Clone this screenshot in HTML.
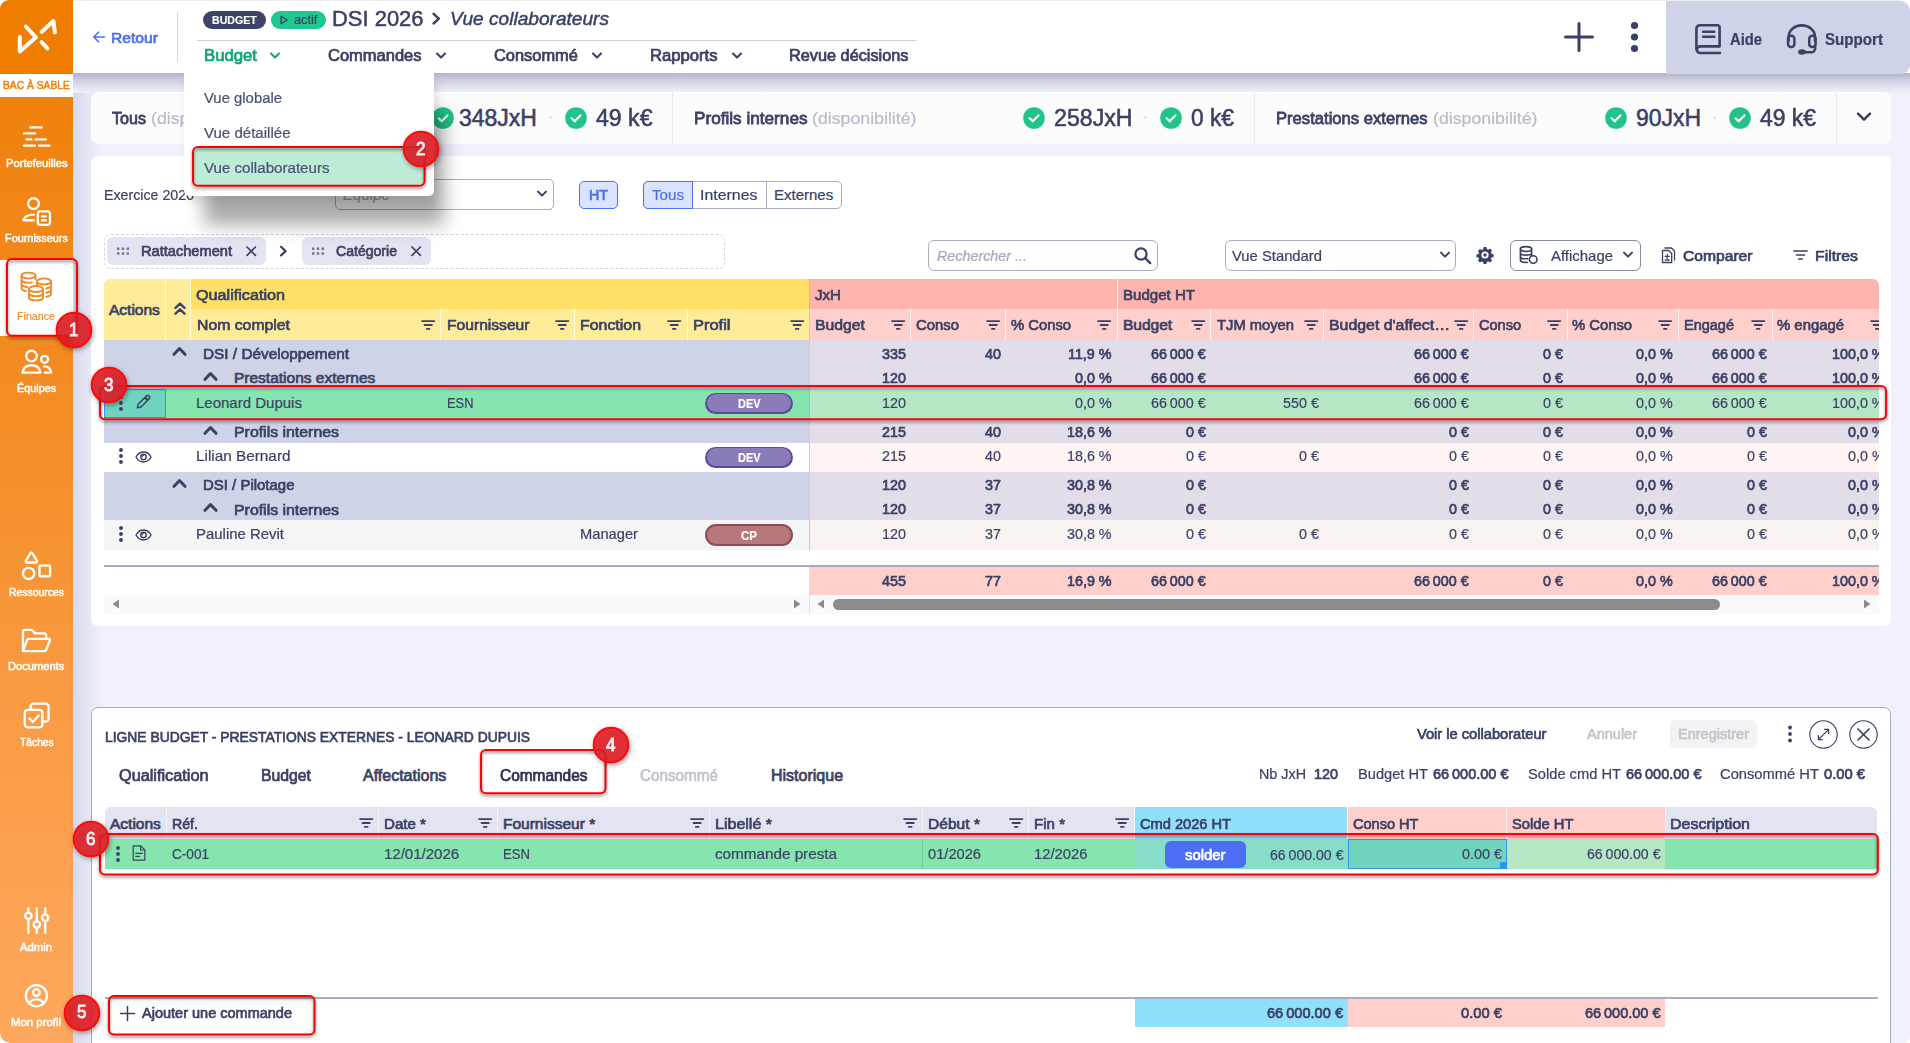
<!DOCTYPE html>
<html lang="fr"><head><meta charset="utf-8"><title>Budget DSI 2026 - Vue collaborateurs</title>
<style>
html,body{margin:0;padding:0;background:#fff;}
body{width:1910px;height:1043px;overflow:hidden;position:relative;font-family:"Liberation Sans",sans-serif;}
#app{position:absolute;left:0;top:0;width:1910px;height:1043px;overflow:hidden;background:#f0f1fb;border-radius:9px 10px 8px 10px;}
#app div,#app svg{position:absolute;box-sizing:border-box;}
.t{white-space:nowrap;transform-origin:0 50%;}
</style></head>
<body>
<div id="app">
<div style="left:73px;top:0px;width:30px;height:1043px;background:linear-gradient(to right,#d7d9ec 0,#e3e5f3 45%,#f0f1fb 100%);"></div>
<div style="left:73px;top:73px;width:1837px;height:19.5px;background:linear-gradient(to bottom,#b1b3c9 0,#bebfd4 15%,#cdcee0 35%,#dadbe8 55%,#e6e7f2 78%,#eeeff9 100%);"></div>
<div style="left:91px;top:92px;width:1799.5px;height:52px;background:#fcfcfd;border-radius:7px;"></div>
<div style="left:672px;top:92px;width:1px;height:52px;background:#e6e7f0;"></div>
<div style="left:1254px;top:92px;width:1px;height:52px;background:#e6e7f0;"></div>
<div style="left:1836px;top:92px;width:1px;height:52px;background:#e6e7f0;"></div>
<div class="t" style="left:112.00px;top:107.98px;font-size:16.5px;line-height:20px;color:#3b4165;-webkit-text-stroke:0.76px #3b4165;transform:scaleX(0.9755);">Tous</div>
<div class="t" style="left:150.70px;top:107.98px;font-size:16.5px;line-height:20px;color:#b9bbcb;-webkit-text-stroke:0.23px #b9bbcb;transform:scaleX(1.0729);">(disponibilité)</div>
<svg style="left:432px;top:106.6px;" width="22" height="22" viewBox="0 0 22 22" fill="none"><circle cx="11" cy="11" r="10.800" fill="#20c488"/><path d="M6.600 11.300l3.100 3 5.700-5.900" stroke="#fff" stroke-width="2.200" stroke-linecap="round" stroke-linejoin="round"/></svg>
<div class="t" style="left:459.00px;top:103.73px;font-size:23px;line-height:28px;color:#3b4165;-webkit-text-stroke:0.55px #3b4165;">348JxH</div>
<div style="left:548.5px;top:116px;width:3px;height:3px;background:#dfe1ee;border-radius:2px;"></div>
<svg style="left:565px;top:106.6px;" width="22" height="22" viewBox="0 0 22 22" fill="none"><circle cx="11" cy="11" r="10.800" fill="#20c488"/><path d="M6.600 11.300l3.100 3 5.700-5.900" stroke="#fff" stroke-width="2.200" stroke-linecap="round" stroke-linejoin="round"/></svg>
<div class="t" style="left:595.50px;top:103.73px;font-size:23px;line-height:28px;color:#3b4165;-webkit-text-stroke:0.55px #3b4165;transform:scaleX(1.0042);">49 k€</div>
<div class="t" style="left:693.50px;top:107.98px;font-size:16.5px;line-height:20px;color:#3b4165;-webkit-text-stroke:0.76px #3b4165;transform:scaleX(1.0401);">Profils internes</div>
<div class="t" style="left:811.50px;top:107.98px;font-size:16.5px;line-height:20px;color:#b9bbcb;-webkit-text-stroke:0.23px #b9bbcb;transform:scaleX(1.0750);">(disponibilité)</div>
<svg style="left:1023px;top:106.6px;" width="22" height="22" viewBox="0 0 22 22" fill="none"><circle cx="11" cy="11" r="10.800" fill="#20c488"/><path d="M6.600 11.300l3.100 3 5.700-5.900" stroke="#fff" stroke-width="2.200" stroke-linecap="round" stroke-linejoin="round"/></svg>
<div class="t" style="left:1053.50px;top:103.73px;font-size:23px;line-height:28px;color:#3b4165;-webkit-text-stroke:0.55px #3b4165;transform:scaleX(1.0066);">258JxH</div>
<div style="left:1143.5px;top:116px;width:3px;height:3px;background:#dfe1ee;border-radius:2px;"></div>
<svg style="left:1160px;top:106.6px;" width="22" height="22" viewBox="0 0 22 22" fill="none"><circle cx="11" cy="11" r="10.800" fill="#20c488"/><path d="M6.600 11.300l3.100 3 5.700-5.900" stroke="#fff" stroke-width="2.200" stroke-linecap="round" stroke-linejoin="round"/></svg>
<div class="t" style="left:1190.50px;top:103.73px;font-size:23px;line-height:28px;color:#3b4165;-webkit-text-stroke:0.55px #3b4165;transform:scaleX(0.9891);">0 k€</div>
<div class="t" style="left:1276.00px;top:107.98px;font-size:16.5px;line-height:20px;color:#3b4165;-webkit-text-stroke:0.76px #3b4165;transform:scaleX(1.0072);">Prestations externes</div>
<div class="t" style="left:1432.50px;top:107.98px;font-size:16.5px;line-height:20px;color:#b9bbcb;-webkit-text-stroke:0.23px #b9bbcb;transform:scaleX(1.0750);">(disponibilité)</div>
<svg style="left:1605px;top:106.6px;" width="22" height="22" viewBox="0 0 22 22" fill="none"><circle cx="11" cy="11" r="10.800" fill="#20c488"/><path d="M6.600 11.300l3.100 3 5.700-5.900" stroke="#fff" stroke-width="2.200" stroke-linecap="round" stroke-linejoin="round"/></svg>
<div class="t" style="left:1636.00px;top:103.73px;font-size:23px;line-height:28px;color:#3b4165;-webkit-text-stroke:0.55px #3b4165;">90JxH</div>
<div style="left:1712.5px;top:116px;width:3px;height:3px;background:#dfe1ee;border-radius:2px;"></div>
<svg style="left:1729px;top:106.6px;" width="22" height="22" viewBox="0 0 22 22" fill="none"><circle cx="11" cy="11" r="10.800" fill="#20c488"/><path d="M6.600 11.300l3.100 3 5.700-5.900" stroke="#fff" stroke-width="2.200" stroke-linecap="round" stroke-linejoin="round"/></svg>
<div class="t" style="left:1760.00px;top:103.73px;font-size:23px;line-height:28px;color:#3b4165;-webkit-text-stroke:0.55px #3b4165;transform:scaleX(0.9953);">49 k€</div>
<svg style="left:1855px;top:110px;" width="18" height="14" viewBox="0 0 18 14" fill="none"><path d="M3 3.600l6 6 6-6" stroke="#3b4165" stroke-width="2.600" stroke-linecap="round" stroke-linejoin="round"/></svg>
<div style="left:91px;top:155.5px;width:1799.5px;height:470.5px;background:#fff;border-radius:7px;"></div>
<div class="t" style="left:104.00px;top:185.80px;font-size:15px;line-height:18px;color:#3b4165;-webkit-text-stroke:0.21px #3b4165;transform:scaleX(0.9468);">Exercice 2026</div>
<div style="left:335px;top:179px;width:218.5px;height:30.5px;background:#fff;border:1px solid #a9acc2;border-radius:5px;"></div>
<div class="t" style="left:343.00px;top:185.80px;font-size:15px;line-height:18px;color:#a5a7b8;font-style:italic;-webkit-text-stroke:0.21px #a5a7b8;transform:scaleX(1.0063);">Équipe</div>
<svg style="left:536px;top:189px;" width="12" height="10" viewBox="0 0 12 10" fill="none"><path d="M2 2.600l4 4 4-4" stroke="#3b4165" stroke-width="2" stroke-linecap="round" stroke-linejoin="round"/></svg>
<div style="left:579px;top:181px;width:38.5px;height:27.5px;background:#dbe4ff;border:1px solid #4c6ef5;border-radius:5px;"></div>
<div class="t" style="left:589.00px;top:185.80px;font-size:15px;line-height:18px;color:#4c6ef5;-webkit-text-stroke:0.69px #4c6ef5;transform:scaleX(0.9502);">HT</div>
<div style="left:643px;top:181px;width:198.5px;height:27.5px;background:#fff;border:1px solid #a9acc2;border-radius:5px;"></div>
<div style="left:643px;top:181px;width:49.5px;height:27.5px;background:#dbe4ff;border:1px solid #4c6ef5;border-radius:5px 0 0 5px;"></div>
<div style="left:766px;top:181px;width:1px;height:27.5px;background:#a9acc2;"></div>
<div class="t" style="left:652.00px;top:185.80px;font-size:15px;line-height:18px;color:#4c6ef5;-webkit-text-stroke:0.21px #4c6ef5;transform:scaleX(1.0100);">Tous</div>
<div class="t" style="left:700.00px;top:185.80px;font-size:15px;line-height:18px;color:#3b4165;-webkit-text-stroke:0.21px #3b4165;transform:scaleX(1.0609);">Internes</div>
<div class="t" style="left:774.00px;top:185.80px;font-size:15px;line-height:18px;color:#3b4165;-webkit-text-stroke:0.21px #3b4165;">Externes</div>
<div style="left:104px;top:234px;width:620.5px;height:34.5px;border:1px dashed #d3d4dc;border-radius:7px;"></div>
<div style="left:107px;top:237px;width:158.5px;height:27.7px;background:#e2e4f1;border-radius:6px;"></div>
<svg style="left:116px;top:245px;" width="16" height="12" viewBox="0 0 16 12" fill="none"><g fill="#6b7192"><rect x="1" y="2.500" width="2.400" height="2.400"/><rect x="5.800" y="2.500" width="2.400" height="2.400"/><rect x="10.600" y="2.500" width="2.400" height="2.400"/><rect x="1" y="7.300" width="2.400" height="2.400"/><rect x="5.800" y="7.300" width="2.400" height="2.400"/><rect x="10.600" y="7.300" width="2.400" height="2.400"/></g></svg>
<div class="t" style="left:141.00px;top:243.45px;font-size:14.3px;line-height:17px;color:#3b4165;-webkit-text-stroke:0.66px #3b4165;transform:scaleX(1.0222);">Rattachement</div>
<svg style="left:243.5px;top:243.8px;" width="14" height="14" viewBox="0 0 14 14" fill="none"><path d="M3 3l8.400 8.400M11.400 3l-8.400 8.400" stroke="#3b4165" stroke-width="1.700" stroke-linecap="round"/></svg>
<svg style="left:277px;top:244px;" width="12" height="14" viewBox="0 0 12 14" fill="none"><path d="M4 2.800l4.600 4.300-4.600 4.300" stroke="#3b4165" stroke-width="2.200" stroke-linecap="round" stroke-linejoin="round"/></svg>
<div style="left:302px;top:237px;width:128.5px;height:27.7px;background:#e2e4f1;border-radius:6px;"></div>
<svg style="left:311px;top:245px;" width="16" height="12" viewBox="0 0 16 12" fill="none"><g fill="#6b7192"><rect x="1" y="2.500" width="2.400" height="2.400"/><rect x="5.800" y="2.500" width="2.400" height="2.400"/><rect x="10.600" y="2.500" width="2.400" height="2.400"/><rect x="1" y="7.300" width="2.400" height="2.400"/><rect x="5.800" y="7.300" width="2.400" height="2.400"/><rect x="10.600" y="7.300" width="2.400" height="2.400"/></g></svg>
<div class="t" style="left:336.00px;top:243.45px;font-size:14.3px;line-height:17px;color:#3b4165;-webkit-text-stroke:0.66px #3b4165;transform:scaleX(0.9838);">Catégorie</div>
<svg style="left:408.5px;top:243.8px;" width="14" height="14" viewBox="0 0 14 14" fill="none"><path d="M3 3l8.400 8.400M11.400 3l-8.400 8.400" stroke="#3b4165" stroke-width="1.700" stroke-linecap="round"/></svg>
<div style="left:928px;top:240px;width:229.5px;height:30.5px;background:#fff;border:1px solid #a9acc2;border-radius:6px;"></div>
<div class="t" style="left:937.00px;top:245.83px;font-size:15.5px;line-height:19px;color:#a5a7b8;font-style:italic;-webkit-text-stroke:0.22px #a5a7b8;transform:scaleX(0.9246);">Rechercher ...</div>
<svg style="left:1133px;top:246px;" width="20" height="20" viewBox="0 0 20 20" fill="none"><circle cx="8" cy="8" r="5.600" stroke="#3b4165" stroke-width="2.200"/><path d="M12.200 12.200l5 5" stroke="#3b4165" stroke-width="2.400" stroke-linecap="round"/></svg>
<div style="left:1225px;top:240px;width:230.5px;height:30.5px;background:#fff;border:1px solid #a9acc2;border-radius:6px;"></div>
<div class="t" style="left:1232.00px;top:246.50px;font-size:15px;line-height:18px;color:#3b4165;-webkit-text-stroke:0.21px #3b4165;transform:scaleX(0.9871);">Vue Standard</div>
<svg style="left:1439px;top:250px;" width="12" height="10" viewBox="0 0 12 10" fill="none"><path d="M2 2.600l4 4 4-4" stroke="#3b4165" stroke-width="2" stroke-linecap="round" stroke-linejoin="round"/></svg>
<svg style="left:1476px;top:246px;" width="18" height="18" viewBox="0 0 18 18" fill="none"><path fill="#3b4165" fill-rule="evenodd" d="M7.600 1h2.800l.5 2.100 1.300.55 1.850-1.150 2 2-1.150 1.850.55 1.300 2.100.5v2.800l-2.100.5-.55 1.300 1.150 1.850-2 2-1.850-1.150-1.300.55-.5 2.100H7.600l-.5-2.100-1.300-.55-1.850 1.150-2-2 1.150-1.850-.55-1.300L.45 11.400V8.600l2.100-.5.55-1.300L1.950 4.950l2-2L5.800 4.100l1.300-.55zM9 5.400a3.600 3.600 0 1 0 0 7.200 3.600 3.600 0 0 0 0-7.200zm0 1.900a1.700 1.700 0 1 1 0 3.400 1.700 1.700 0 0 1 0-3.400z"/></svg>
<div style="left:1510px;top:240px;width:130.5px;height:30.5px;background:#fff;border:1px solid #8689a3;border-radius:6px;"></div>
<svg style="left:1518px;top:245px;" width="22" height="20" viewBox="0 0 22 20" fill="none"><g stroke="#3b4165" stroke-width="1.600" stroke-linecap="round"><ellipse cx="8" cy="4" rx="5.600" ry="2.400"/><path d="M2.400 4v11c0 1.300 2.500 2.400 5.600 2.400h1.200M13.600 4v6.500M2.400 7.700c0 1.300 2.500 2.400 5.600 2.400s5.600-1.100 5.600-2.400M2.400 11.400c0 1.300 2.500 2.400 5.600 2.400h1.600"/><circle cx="15.200" cy="14.600" r="3.800"/></g></svg>
<div class="t" style="left:1551.00px;top:246.50px;font-size:15px;line-height:18px;color:#3b4165;-webkit-text-stroke:0.21px #3b4165;transform:scaleX(0.9957);">Affichage</div>
<svg style="left:1622px;top:250px;" width="12" height="10" viewBox="0 0 12 10" fill="none"><path d="M2 2.600l4 4 4-4" stroke="#3b4165" stroke-width="2" stroke-linecap="round" stroke-linejoin="round"/></svg>
<svg style="left:1660px;top:246px;" width="16" height="18" viewBox="0 0 16 18" fill="none"><g stroke="#3b4165" stroke-width="1.300" stroke-linejoin="round" stroke-linecap="round"><path d="M2.500 4.500h6.200l3 3v9H2.500z"/><path d="M5 2h6.500l3 3v9"/><path d="M7.200 8.400v4M5.200 10.400h4M5.200 14h4"/></g></svg>
<div class="t" style="left:1683.00px;top:245.83px;font-size:15.5px;line-height:19px;color:#3b4165;-webkit-text-stroke:0.71px #3b4165;transform:scaleX(1.0086);">Comparer</div>
<svg style="left:1792.5px;top:249px;" width="15" height="12" viewBox="0 0 15 12" fill="none"><path d="M1 2h13M3.600 6h7.800M5.800 10h3.400" stroke="#3b4165" stroke-width="1.700" stroke-linecap="round"/></svg>
<div class="t" style="left:1815.00px;top:245.83px;font-size:15.5px;line-height:19px;color:#3b4165;-webkit-text-stroke:0.71px #3b4165;transform:scaleX(1.0191);">Filtres</div>
<div style="left:104px;top:279px;width:705px;height:61px;background:#ffec99;border-radius:6px 0 0 0;"></div>
<div style="left:190.5px;top:279px;width:618.5px;height:30px;background:#ffe066;"></div>
<div style="left:809px;top:279px;width:1069.5px;height:30px;background:#ffb5ad;border-radius:0 6px 0 0;"></div>
<div style="left:809px;top:309px;width:1069.5px;height:31px;background:#ffd0cb;"></div>
<div style="left:164.7px;top:279px;width:1px;height:61px;background:#fffae0;"></div>
<div style="left:189.5px;top:279px;width:1px;height:61px;background:#fffae0;"></div>
<div style="left:440px;top:309px;width:1px;height:31px;background:#fffae0;"></div>
<div style="left:574px;top:309px;width:1px;height:31px;background:#fffae0;"></div>
<div style="left:687px;top:309px;width:1px;height:31px;background:#fffae0;"></div>
<div style="left:910px;top:309px;width:1px;height:31px;background:#fff1ef;"></div>
<div style="left:1005px;top:309px;width:1px;height:31px;background:#fff1ef;"></div>
<div style="left:1210px;top:309px;width:1px;height:31px;background:#fff1ef;"></div>
<div style="left:1323px;top:309px;width:1px;height:31px;background:#fff1ef;"></div>
<div style="left:1473px;top:309px;width:1px;height:31px;background:#fff1ef;"></div>
<div style="left:1567px;top:309px;width:1px;height:31px;background:#fff1ef;"></div>
<div style="left:1678px;top:309px;width:1px;height:31px;background:#fff1ef;"></div>
<div style="left:1772px;top:309px;width:1px;height:31px;background:#fff1ef;"></div>
<div style="left:1117px;top:279px;width:1px;height:61px;background:#fff1ef;"></div>
<div class="t" style="left:109.00px;top:299.63px;font-size:15.5px;line-height:19px;color:#3b4165;-webkit-text-stroke:0.71px #3b4165;">Actions</div>
<svg style="left:173px;top:301px;" width="14" height="15" viewBox="0 0 14 15" fill="none"><path d="M2.500 6.800l4.500-4.300 4.500 4.300M2.500 12.600l4.500-4.300 4.500 4.300" stroke="#3b4165" stroke-width="2.400" stroke-linecap="round" stroke-linejoin="round"/></svg>
<div class="t" style="left:196.00px;top:284.83px;font-size:15.5px;line-height:19px;color:#3b4165;-webkit-text-stroke:0.71px #3b4165;transform:scaleX(1.0434);">Qualification</div>
<div class="t" style="left:815.00px;top:284.83px;font-size:15.5px;line-height:19px;color:#3b4165;-webkit-text-stroke:0.71px #3b4165;transform:scaleX(0.9740);">JxH</div>
<div class="t" style="left:1123.00px;top:285.33px;font-size:15.5px;line-height:19px;color:#3b4165;-webkit-text-stroke:0.71px #3b4165;transform:scaleX(0.9717);">Budget HT</div>
<div style="left:0;top:0;width:1878.500px;height:700px;overflow:hidden;">
<div class="t" style="left:197.00px;top:314.63px;font-size:15.5px;line-height:19px;color:#3b4165;-webkit-text-stroke:0.71px #3b4165;transform:scaleX(1.0186);">Nom complet</div>
<svg style="left:421px;top:318.7px;" width="15" height="12" viewBox="0 0 15 12" fill="none"><path d="M1.100 2.100h12.200M3.600 6h7.200M5.900 9.900h2.600" stroke="#3b4165" stroke-width="1.900" stroke-linecap="round"/></svg>
<div class="t" style="left:446.50px;top:314.63px;font-size:15.5px;line-height:19px;color:#3b4165;-webkit-text-stroke:0.71px #3b4165;transform:scaleX(1.0081);">Fournisseur</div>
<svg style="left:555px;top:318.7px;" width="15" height="12" viewBox="0 0 15 12" fill="none"><path d="M1.100 2.100h12.200M3.600 6h7.200M5.900 9.900h2.600" stroke="#3b4165" stroke-width="1.900" stroke-linecap="round"/></svg>
<div class="t" style="left:580.00px;top:314.63px;font-size:15.5px;line-height:19px;color:#3b4165;-webkit-text-stroke:0.71px #3b4165;transform:scaleX(1.0261);">Fonction</div>
<svg style="left:667px;top:318.7px;" width="15" height="12" viewBox="0 0 15 12" fill="none"><path d="M1.100 2.100h12.200M3.600 6h7.200M5.900 9.900h2.600" stroke="#3b4165" stroke-width="1.900" stroke-linecap="round"/></svg>
<div class="t" style="left:692.50px;top:314.63px;font-size:15.5px;line-height:19px;color:#3b4165;-webkit-text-stroke:0.71px #3b4165;transform:scaleX(1.0619);">Profil</div>
<svg style="left:790px;top:318.7px;" width="15" height="12" viewBox="0 0 15 12" fill="none"><path d="M1.100 2.100h12.200M3.600 6h7.200M5.900 9.900h2.600" stroke="#3b4165" stroke-width="1.900" stroke-linecap="round"/></svg>
<div class="t" style="left:815.00px;top:314.63px;font-size:15.5px;line-height:19px;color:#3b4165;-webkit-text-stroke:0.71px #3b4165;transform:scaleX(1.0178);">Budget</div>
<svg style="left:891px;top:318.7px;" width="15" height="12" viewBox="0 0 15 12" fill="none"><path d="M1.100 2.100h12.200M3.600 6h7.200M5.900 9.900h2.600" stroke="#3b4165" stroke-width="1.900" stroke-linecap="round"/></svg>
<div class="t" style="left:916.00px;top:314.63px;font-size:15.5px;line-height:19px;color:#3b4165;-webkit-text-stroke:0.71px #3b4165;transform:scaleX(0.9597);">Conso</div>
<svg style="left:986px;top:318.7px;" width="15" height="12" viewBox="0 0 15 12" fill="none"><path d="M1.100 2.100h12.200M3.600 6h7.200M5.900 9.900h2.600" stroke="#3b4165" stroke-width="1.900" stroke-linecap="round"/></svg>
<div class="t" style="left:1011.00px;top:314.63px;font-size:15.5px;line-height:19px;color:#3b4165;-webkit-text-stroke:0.71px #3b4165;transform:scaleX(0.9540);">% Conso</div>
<svg style="left:1097px;top:318.7px;" width="15" height="12" viewBox="0 0 15 12" fill="none"><path d="M1.100 2.100h12.200M3.600 6h7.200M5.900 9.900h2.600" stroke="#3b4165" stroke-width="1.900" stroke-linecap="round"/></svg>
<div class="t" style="left:1123.00px;top:314.63px;font-size:15.5px;line-height:19px;color:#3b4165;-webkit-text-stroke:0.71px #3b4165;">Budget</div>
<svg style="left:1191px;top:318.7px;" width="15" height="12" viewBox="0 0 15 12" fill="none"><path d="M1.100 2.100h12.200M3.600 6h7.200M5.900 9.900h2.600" stroke="#3b4165" stroke-width="1.900" stroke-linecap="round"/></svg>
<div class="t" style="left:1217.00px;top:314.63px;font-size:15.5px;line-height:19px;color:#3b4165;-webkit-text-stroke:0.71px #3b4165;transform:scaleX(0.9511);">TJM moyen</div>
<svg style="left:1304px;top:318.7px;" width="15" height="12" viewBox="0 0 15 12" fill="none"><path d="M1.100 2.100h12.200M3.600 6h7.200M5.900 9.900h2.600" stroke="#3b4165" stroke-width="1.900" stroke-linecap="round"/></svg>
<div class="t" style="left:1329.00px;top:314.63px;font-size:15.5px;line-height:19px;color:#3b4165;-webkit-text-stroke:0.71px #3b4165;transform:scaleX(1.0242);">Budget d'affect…</div>
<svg style="left:1454px;top:318.7px;" width="15" height="12" viewBox="0 0 15 12" fill="none"><path d="M1.100 2.100h12.200M3.600 6h7.200M5.900 9.900h2.600" stroke="#3b4165" stroke-width="1.900" stroke-linecap="round"/></svg>
<div class="t" style="left:1479.00px;top:314.63px;font-size:15.5px;line-height:19px;color:#3b4165;-webkit-text-stroke:0.71px #3b4165;transform:scaleX(0.9374);">Conso</div>
<svg style="left:1547px;top:318.7px;" width="15" height="12" viewBox="0 0 15 12" fill="none"><path d="M1.100 2.100h12.200M3.600 6h7.200M5.900 9.900h2.600" stroke="#3b4165" stroke-width="1.900" stroke-linecap="round"/></svg>
<div class="t" style="left:1572.00px;top:314.63px;font-size:15.5px;line-height:19px;color:#3b4165;-webkit-text-stroke:0.71px #3b4165;transform:scaleX(0.9540);">% Conso</div>
<svg style="left:1658px;top:318.7px;" width="15" height="12" viewBox="0 0 15 12" fill="none"><path d="M1.100 2.100h12.200M3.600 6h7.200M5.900 9.900h2.600" stroke="#3b4165" stroke-width="1.900" stroke-linecap="round"/></svg>
<div class="t" style="left:1684.00px;top:314.63px;font-size:15.5px;line-height:19px;color:#3b4165;-webkit-text-stroke:0.71px #3b4165;transform:scaleX(0.9356);">Engagé</div>
<svg style="left:1751px;top:318.7px;" width="15" height="12" viewBox="0 0 15 12" fill="none"><path d="M1.100 2.100h12.200M3.600 6h7.200M5.900 9.900h2.600" stroke="#3b4165" stroke-width="1.900" stroke-linecap="round"/></svg>
<div class="t" style="left:1777.00px;top:314.63px;font-size:15.5px;line-height:19px;color:#3b4165;-webkit-text-stroke:0.71px #3b4165;transform:scaleX(0.9597);">% engagé</div>
<svg style="left:1870px;top:318.7px;" width="15" height="12" viewBox="0 0 15 12" fill="none"><path d="M1.100 2.100h12.200M3.600 6h7.200M5.900 9.900h2.600" stroke="#3b4165" stroke-width="1.900" stroke-linecap="round"/></svg>
<div style="left:104px;top:340px;width:705px;height:25px;background:#cfd3e8;"></div>
<div style="left:809px;top:340px;width:1069.5px;height:25px;background:#e3dde9;"></div>
<svg style="left:171px;top:345.2px;" width="17" height="12" viewBox="0 0 17 12" fill="none"><path d="M3 9.3l5.500-5.800 5.500 5.800" stroke="#3b4165" stroke-width="3" stroke-linecap="round" stroke-linejoin="round"/></svg>
<div class="t" style="left:203.00px;top:343.83px;font-size:15.5px;line-height:19px;color:#3b4165;-webkit-text-stroke:0.71px #3b4165;transform:scaleX(0.9910);">DSI / Développement</div>
<div class="t" style="left:882.10px;top:344.50px;font-size:15px;line-height:18px;color:#3b4165;-webkit-text-stroke:0.69px #3b4165;transform:scaleX(0.9550);">335</div>
<div class="t" style="left:985.07px;top:344.50px;font-size:15px;line-height:18px;color:#3b4165;-webkit-text-stroke:0.69px #3b4165;transform:scaleX(0.9550);">40</div>
<div class="t" style="left:1068.47px;top:344.50px;font-size:15px;line-height:18px;color:#3b4165;-webkit-text-stroke:0.69px #3b4165;transform:scaleX(0.9550);">11,9 %</div>
<div class="t" style="left:1151.35px;top:344.50px;font-size:15px;line-height:18px;color:#3b4165;-webkit-text-stroke:0.69px #3b4165;transform:scaleX(0.9550);">66 000 €</div>
<div class="t" style="left:1414.35px;top:344.50px;font-size:15px;line-height:18px;color:#3b4165;-webkit-text-stroke:0.69px #3b4165;transform:scaleX(0.9550);">66 000 €</div>
<div class="t" style="left:1542.59px;top:344.50px;font-size:15px;line-height:18px;color:#3b4165;-webkit-text-stroke:0.69px #3b4165;transform:scaleX(0.9550);">0 €</div>
<div class="t" style="left:1636.37px;top:344.50px;font-size:15px;line-height:18px;color:#3b4165;-webkit-text-stroke:0.69px #3b4165;transform:scaleX(0.9550);">0,0 %</div>
<div class="t" style="left:1712.35px;top:344.50px;font-size:15px;line-height:18px;color:#3b4165;-webkit-text-stroke:0.69px #3b4165;transform:scaleX(0.9550);">66 000 €</div>
<div class="t" style="left:1831.94px;top:344.50px;font-size:15px;line-height:18px;color:#3b4165;-webkit-text-stroke:0.69px #3b4165;transform:scaleX(0.9550);">100,0 %</div>
<div style="left:104px;top:365px;width:705px;height:24px;background:#cfd3e8;"></div>
<div style="left:809px;top:365px;width:1069.5px;height:24px;background:#e3dde9;"></div>
<svg style="left:202px;top:369.5px;" width="17" height="12" viewBox="0 0 17 12" fill="none"><path d="M3 9.3l5.500-5.800 5.500 5.800" stroke="#3b4165" stroke-width="3" stroke-linecap="round" stroke-linejoin="round"/></svg>
<div class="t" style="left:234.00px;top:368.13px;font-size:15.5px;line-height:19px;color:#3b4165;-webkit-text-stroke:0.71px #3b4165;">Prestations externes</div>
<div class="t" style="left:882.10px;top:368.80px;font-size:15px;line-height:18px;color:#3b4165;-webkit-text-stroke:0.69px #3b4165;transform:scaleX(0.9550);">120</div>
<div class="t" style="left:1075.37px;top:368.80px;font-size:15px;line-height:18px;color:#3b4165;-webkit-text-stroke:0.69px #3b4165;transform:scaleX(0.9550);">0,0 %</div>
<div class="t" style="left:1151.35px;top:368.80px;font-size:15px;line-height:18px;color:#3b4165;-webkit-text-stroke:0.69px #3b4165;transform:scaleX(0.9550);">66 000 €</div>
<div class="t" style="left:1414.35px;top:368.80px;font-size:15px;line-height:18px;color:#3b4165;-webkit-text-stroke:0.69px #3b4165;transform:scaleX(0.9550);">66 000 €</div>
<div class="t" style="left:1542.59px;top:368.80px;font-size:15px;line-height:18px;color:#3b4165;-webkit-text-stroke:0.69px #3b4165;transform:scaleX(0.9550);">0 €</div>
<div class="t" style="left:1636.37px;top:368.80px;font-size:15px;line-height:18px;color:#3b4165;-webkit-text-stroke:0.69px #3b4165;transform:scaleX(0.9550);">0,0 %</div>
<div class="t" style="left:1712.35px;top:368.80px;font-size:15px;line-height:18px;color:#3b4165;-webkit-text-stroke:0.69px #3b4165;transform:scaleX(0.9550);">66 000 €</div>
<div class="t" style="left:1831.94px;top:368.80px;font-size:15px;line-height:18px;color:#3b4165;-webkit-text-stroke:0.69px #3b4165;transform:scaleX(0.9550);">100,0 %</div>
<div style="left:104px;top:389px;width:705px;height:28.5px;background:#86e5ae;"></div>
<div style="left:809px;top:389px;width:1069.5px;height:28.5px;background:#b5e6c5;"></div>
<div style="left:104px;top:389px;width:61.5px;height:28.5px;background:#6fd3c0;border:1px solid #339af0;"></div>
<svg style="left:118px;top:393.5px;" width="6" height="18" viewBox="0 0 6 18" fill="none"><circle cx="3" cy="3" r="1.95" fill="#3b4165"/><circle cx="3" cy="9" r="1.95" fill="#3b4165"/><circle cx="3" cy="15" r="1.95" fill="#3b4165"/></svg>
<svg style="left:135px;top:394px;" width="17" height="16" viewBox="0 0 17 16" fill="none"><path d="M2.400 13.800l.8-3.600 8.200-8.200a1.700 1.700 0 0 1 2.400 0l.4.400a1.700 1.700 0 0 1 0 2.400l-8.200 8.200z" stroke="#3b4165" stroke-width="1.500" stroke-linejoin="round"/><path d="M10.600 2.600l3 3-1.600 1.600-3-3z" fill="#3b4165"/></svg>
<div class="t" style="left:196.00px;top:393.80px;font-size:15px;line-height:18px;color:#3b4165;-webkit-text-stroke:0.21px #3b4165;">Leonard Dupuis</div>
<div class="t" style="left:446.50px;top:393.80px;font-size:15px;line-height:18px;color:#3b4165;-webkit-text-stroke:0.21px #3b4165;transform:scaleX(0.8592);">ESN</div>
<div style="left:705px;top:392.5px;width:87.5px;height:21.5px;background:#5c4a9c;border-radius:11px;"></div>
<div style="left:706.6px;top:394.1px;width:84.3px;height:18.3px;background:#8b7bb8;border-radius:9.500px;"></div>
<div class="t" style="left:737.50px;top:397.34px;font-size:12px;line-height:14px;color:#fff;font-weight:700;-webkit-text-stroke:0.17px #fff;transform:scaleX(0.9119);">DEV</div>
<div class="t" style="left:882.10px;top:393.80px;font-size:15px;line-height:18px;color:#3b4165;-webkit-text-stroke:0.21px #3b4165;transform:scaleX(0.9550);">120</div>
<div class="t" style="left:1075.37px;top:393.80px;font-size:15px;line-height:18px;color:#3b4165;-webkit-text-stroke:0.21px #3b4165;transform:scaleX(0.9550);">0,0 %</div>
<div class="t" style="left:1151.35px;top:393.80px;font-size:15px;line-height:18px;color:#3b4165;-webkit-text-stroke:0.21px #3b4165;transform:scaleX(0.9550);">66 000 €</div>
<div class="t" style="left:1283.15px;top:393.80px;font-size:15px;line-height:18px;color:#3b4165;-webkit-text-stroke:0.21px #3b4165;transform:scaleX(0.9550);">550 €</div>
<div class="t" style="left:1414.35px;top:393.80px;font-size:15px;line-height:18px;color:#3b4165;-webkit-text-stroke:0.21px #3b4165;transform:scaleX(0.9550);">66 000 €</div>
<div class="t" style="left:1542.59px;top:393.80px;font-size:15px;line-height:18px;color:#3b4165;-webkit-text-stroke:0.21px #3b4165;transform:scaleX(0.9550);">0 €</div>
<div class="t" style="left:1636.37px;top:393.80px;font-size:15px;line-height:18px;color:#3b4165;-webkit-text-stroke:0.21px #3b4165;transform:scaleX(0.9550);">0,0 %</div>
<div class="t" style="left:1712.35px;top:393.80px;font-size:15px;line-height:18px;color:#3b4165;-webkit-text-stroke:0.21px #3b4165;transform:scaleX(0.9550);">66 000 €</div>
<div class="t" style="left:1831.94px;top:393.80px;font-size:15px;line-height:18px;color:#3b4165;-webkit-text-stroke:0.21px #3b4165;transform:scaleX(0.9550);">100,0 %</div>
<div style="left:104px;top:417.5px;width:705px;height:25px;background:#cfd3e8;"></div>
<div style="left:809px;top:417.5px;width:1069.5px;height:25px;background:#e3dde9;"></div>
<svg style="left:202px;top:423.5px;" width="17" height="12" viewBox="0 0 17 12" fill="none"><path d="M3 9.3l5.500-5.800 5.500 5.800" stroke="#3b4165" stroke-width="3" stroke-linecap="round" stroke-linejoin="round"/></svg>
<div class="t" style="left:234.00px;top:422.13px;font-size:15.5px;line-height:19px;color:#3b4165;-webkit-text-stroke:0.71px #3b4165;transform:scaleX(1.0242);">Profils internes</div>
<div class="t" style="left:882.10px;top:422.80px;font-size:15px;line-height:18px;color:#3b4165;-webkit-text-stroke:0.69px #3b4165;transform:scaleX(0.9550);">215</div>
<div class="t" style="left:985.07px;top:422.80px;font-size:15px;line-height:18px;color:#3b4165;-webkit-text-stroke:0.69px #3b4165;transform:scaleX(0.9550);">40</div>
<div class="t" style="left:1067.40px;top:422.80px;font-size:15px;line-height:18px;color:#3b4165;-webkit-text-stroke:0.69px #3b4165;transform:scaleX(0.9550);">18,6 %</div>
<div class="t" style="left:1186.09px;top:422.80px;font-size:15px;line-height:18px;color:#3b4165;-webkit-text-stroke:0.69px #3b4165;transform:scaleX(0.9550);">0 €</div>
<div class="t" style="left:1449.09px;top:422.80px;font-size:15px;line-height:18px;color:#3b4165;-webkit-text-stroke:0.69px #3b4165;transform:scaleX(0.9550);">0 €</div>
<div class="t" style="left:1542.59px;top:422.80px;font-size:15px;line-height:18px;color:#3b4165;-webkit-text-stroke:0.69px #3b4165;transform:scaleX(0.9550);">0 €</div>
<div class="t" style="left:1636.37px;top:422.80px;font-size:15px;line-height:18px;color:#3b4165;-webkit-text-stroke:0.69px #3b4165;transform:scaleX(0.9550);">0,0 %</div>
<div class="t" style="left:1747.09px;top:422.80px;font-size:15px;line-height:18px;color:#3b4165;-webkit-text-stroke:0.69px #3b4165;transform:scaleX(0.9550);">0 €</div>
<div class="t" style="left:1847.87px;top:422.80px;font-size:15px;line-height:18px;color:#3b4165;-webkit-text-stroke:0.69px #3b4165;transform:scaleX(0.9550);">0,0 %</div>
<div style="left:104px;top:442.5px;width:705px;height:29.5px;background:#fff;"></div>
<div style="left:809px;top:442.5px;width:1069.5px;height:29.5px;background:#fff5f4;"></div>
<svg style="left:118px;top:446.7px;" width="6" height="18" viewBox="0 0 6 18" fill="none"><circle cx="3" cy="3" r="1.95" fill="#3b4165"/><circle cx="3" cy="9" r="1.95" fill="#3b4165"/><circle cx="3" cy="15" r="1.95" fill="#3b4165"/></svg>
<svg style="left:135px;top:449.7px;" width="17" height="14" viewBox="0 0 17 14" fill="none"><g stroke="#3b4165" stroke-width="1.400"><path d="M1 7c1.900-3.400 4.500-5 7.500-5s5.600 1.600 7.500 5c-1.900 3.400-4.500 5-7.500 5S2.900 10.400 1 7z" stroke-linejoin="round"/><circle cx="8.500" cy="7" r="2.700"/><path d="M8.500 5.500a1.500 1.500 0 0 0-1.500 1.500" stroke-linecap="round" stroke-width="1.100"/></g></svg>
<div class="t" style="left:196.00px;top:447.00px;font-size:15px;line-height:18px;color:#3b4165;-webkit-text-stroke:0.21px #3b4165;transform:scaleX(1.0210);">Lilian Bernard</div>
<div style="left:705px;top:446.5px;width:87.5px;height:21.5px;background:#5c4a9c;border-radius:11px;"></div>
<div style="left:706.6px;top:448.1px;width:84.3px;height:18.3px;background:#8b7bb8;border-radius:9.500px;"></div>
<div class="t" style="left:737.50px;top:451.34px;font-size:12px;line-height:14px;color:#fff;font-weight:700;-webkit-text-stroke:0.17px #fff;transform:scaleX(0.9119);">DEV</div>
<div class="t" style="left:882.10px;top:447.00px;font-size:15px;line-height:18px;color:#3b4165;-webkit-text-stroke:0.21px #3b4165;transform:scaleX(0.9550);">215</div>
<div class="t" style="left:985.07px;top:447.00px;font-size:15px;line-height:18px;color:#3b4165;-webkit-text-stroke:0.21px #3b4165;transform:scaleX(0.9550);">40</div>
<div class="t" style="left:1067.40px;top:447.00px;font-size:15px;line-height:18px;color:#3b4165;-webkit-text-stroke:0.21px #3b4165;transform:scaleX(0.9550);">18,6 %</div>
<div class="t" style="left:1186.09px;top:447.00px;font-size:15px;line-height:18px;color:#3b4165;-webkit-text-stroke:0.21px #3b4165;transform:scaleX(0.9550);">0 €</div>
<div class="t" style="left:1299.09px;top:447.00px;font-size:15px;line-height:18px;color:#3b4165;-webkit-text-stroke:0.21px #3b4165;transform:scaleX(0.9550);">0 €</div>
<div class="t" style="left:1449.09px;top:447.00px;font-size:15px;line-height:18px;color:#3b4165;-webkit-text-stroke:0.21px #3b4165;transform:scaleX(0.9550);">0 €</div>
<div class="t" style="left:1542.59px;top:447.00px;font-size:15px;line-height:18px;color:#3b4165;-webkit-text-stroke:0.21px #3b4165;transform:scaleX(0.9550);">0 €</div>
<div class="t" style="left:1636.37px;top:447.00px;font-size:15px;line-height:18px;color:#3b4165;-webkit-text-stroke:0.21px #3b4165;transform:scaleX(0.9550);">0,0 %</div>
<div class="t" style="left:1747.09px;top:447.00px;font-size:15px;line-height:18px;color:#3b4165;-webkit-text-stroke:0.21px #3b4165;transform:scaleX(0.9550);">0 €</div>
<div class="t" style="left:1847.87px;top:447.00px;font-size:15px;line-height:18px;color:#3b4165;-webkit-text-stroke:0.21px #3b4165;transform:scaleX(0.9550);">0,0 %</div>
<div style="left:104px;top:472px;width:705px;height:24px;background:#cfd3e8;"></div>
<div style="left:809px;top:472px;width:1069.5px;height:24px;background:#e3dde9;"></div>
<svg style="left:171px;top:476.5px;" width="17" height="12" viewBox="0 0 17 12" fill="none"><path d="M3 9.3l5.500-5.800 5.500 5.800" stroke="#3b4165" stroke-width="3" stroke-linecap="round" stroke-linejoin="round"/></svg>
<div class="t" style="left:203.00px;top:475.13px;font-size:15.5px;line-height:19px;color:#3b4165;-webkit-text-stroke:0.71px #3b4165;transform:scaleX(0.9655);">DSI / Pilotage</div>
<div class="t" style="left:882.10px;top:475.80px;font-size:15px;line-height:18px;color:#3b4165;-webkit-text-stroke:0.69px #3b4165;transform:scaleX(0.9550);">120</div>
<div class="t" style="left:985.07px;top:475.80px;font-size:15px;line-height:18px;color:#3b4165;-webkit-text-stroke:0.69px #3b4165;transform:scaleX(0.9550);">37</div>
<div class="t" style="left:1067.40px;top:475.80px;font-size:15px;line-height:18px;color:#3b4165;-webkit-text-stroke:0.69px #3b4165;transform:scaleX(0.9550);">30,8 %</div>
<div class="t" style="left:1186.09px;top:475.80px;font-size:15px;line-height:18px;color:#3b4165;-webkit-text-stroke:0.69px #3b4165;transform:scaleX(0.9550);">0 €</div>
<div class="t" style="left:1449.09px;top:475.80px;font-size:15px;line-height:18px;color:#3b4165;-webkit-text-stroke:0.69px #3b4165;transform:scaleX(0.9550);">0 €</div>
<div class="t" style="left:1542.59px;top:475.80px;font-size:15px;line-height:18px;color:#3b4165;-webkit-text-stroke:0.69px #3b4165;transform:scaleX(0.9550);">0 €</div>
<div class="t" style="left:1636.37px;top:475.80px;font-size:15px;line-height:18px;color:#3b4165;-webkit-text-stroke:0.69px #3b4165;transform:scaleX(0.9550);">0,0 %</div>
<div class="t" style="left:1747.09px;top:475.80px;font-size:15px;line-height:18px;color:#3b4165;-webkit-text-stroke:0.69px #3b4165;transform:scaleX(0.9550);">0 €</div>
<div class="t" style="left:1847.87px;top:475.80px;font-size:15px;line-height:18px;color:#3b4165;-webkit-text-stroke:0.69px #3b4165;transform:scaleX(0.9550);">0,0 %</div>
<div style="left:104px;top:496px;width:705px;height:24px;background:#cfd3e8;"></div>
<div style="left:809px;top:496px;width:1069.5px;height:24px;background:#e3dde9;"></div>
<svg style="left:202px;top:501px;" width="17" height="12" viewBox="0 0 17 12" fill="none"><path d="M3 9.3l5.500-5.800 5.500 5.800" stroke="#3b4165" stroke-width="3" stroke-linecap="round" stroke-linejoin="round"/></svg>
<div class="t" style="left:234.00px;top:499.63px;font-size:15.5px;line-height:19px;color:#3b4165;-webkit-text-stroke:0.71px #3b4165;transform:scaleX(1.0242);">Profils internes</div>
<div class="t" style="left:882.10px;top:500.30px;font-size:15px;line-height:18px;color:#3b4165;-webkit-text-stroke:0.69px #3b4165;transform:scaleX(0.9550);">120</div>
<div class="t" style="left:985.07px;top:500.30px;font-size:15px;line-height:18px;color:#3b4165;-webkit-text-stroke:0.69px #3b4165;transform:scaleX(0.9550);">37</div>
<div class="t" style="left:1067.40px;top:500.30px;font-size:15px;line-height:18px;color:#3b4165;-webkit-text-stroke:0.69px #3b4165;transform:scaleX(0.9550);">30,8 %</div>
<div class="t" style="left:1186.09px;top:500.30px;font-size:15px;line-height:18px;color:#3b4165;-webkit-text-stroke:0.69px #3b4165;transform:scaleX(0.9550);">0 €</div>
<div class="t" style="left:1449.09px;top:500.30px;font-size:15px;line-height:18px;color:#3b4165;-webkit-text-stroke:0.69px #3b4165;transform:scaleX(0.9550);">0 €</div>
<div class="t" style="left:1542.59px;top:500.30px;font-size:15px;line-height:18px;color:#3b4165;-webkit-text-stroke:0.69px #3b4165;transform:scaleX(0.9550);">0 €</div>
<div class="t" style="left:1636.37px;top:500.30px;font-size:15px;line-height:18px;color:#3b4165;-webkit-text-stroke:0.69px #3b4165;transform:scaleX(0.9550);">0,0 %</div>
<div class="t" style="left:1747.09px;top:500.30px;font-size:15px;line-height:18px;color:#3b4165;-webkit-text-stroke:0.69px #3b4165;transform:scaleX(0.9550);">0 €</div>
<div class="t" style="left:1847.87px;top:500.30px;font-size:15px;line-height:18px;color:#3b4165;-webkit-text-stroke:0.69px #3b4165;transform:scaleX(0.9550);">0,0 %</div>
<div style="left:104px;top:520px;width:705px;height:29.5px;background:#f4f6f6;"></div>
<div style="left:809px;top:520px;width:1069.5px;height:29.5px;background:#f8f3f1;"></div>
<svg style="left:118px;top:524.5px;" width="6" height="18" viewBox="0 0 6 18" fill="none"><circle cx="3" cy="3" r="1.95" fill="#3b4165"/><circle cx="3" cy="9" r="1.95" fill="#3b4165"/><circle cx="3" cy="15" r="1.95" fill="#3b4165"/></svg>
<svg style="left:135px;top:527.5px;" width="17" height="14" viewBox="0 0 17 14" fill="none"><g stroke="#3b4165" stroke-width="1.400"><path d="M1 7c1.900-3.400 4.500-5 7.500-5s5.600 1.600 7.500 5c-1.900 3.400-4.500 5-7.500 5S2.900 10.400 1 7z" stroke-linejoin="round"/><circle cx="8.500" cy="7" r="2.700"/><path d="M8.500 5.500a1.500 1.500 0 0 0-1.500 1.500" stroke-linecap="round" stroke-width="1.100"/></g></svg>
<div class="t" style="left:196.00px;top:524.80px;font-size:15px;line-height:18px;color:#3b4165;-webkit-text-stroke:0.21px #3b4165;transform:scaleX(0.9957);">Pauline Revit</div>
<div class="t" style="left:580.00px;top:524.80px;font-size:15px;line-height:18px;color:#3b4165;-webkit-text-stroke:0.21px #3b4165;transform:scaleX(0.9797);">Manager</div>
<div style="left:705px;top:524px;width:87.5px;height:21.5px;background:#8f4b54;border-radius:11px;"></div>
<div style="left:706.6px;top:525.6px;width:84.3px;height:18.3px;background:#b8777b;border-radius:9.500px;"></div>
<div class="t" style="left:741.00px;top:528.84px;font-size:12px;line-height:14px;color:#fff;font-weight:700;-webkit-text-stroke:0.17px #fff;transform:scaleX(0.9598);">CP</div>
<div class="t" style="left:882.10px;top:524.80px;font-size:15px;line-height:18px;color:#3b4165;-webkit-text-stroke:0.21px #3b4165;transform:scaleX(0.9550);">120</div>
<div class="t" style="left:985.07px;top:524.80px;font-size:15px;line-height:18px;color:#3b4165;-webkit-text-stroke:0.21px #3b4165;transform:scaleX(0.9550);">37</div>
<div class="t" style="left:1067.40px;top:524.80px;font-size:15px;line-height:18px;color:#3b4165;-webkit-text-stroke:0.21px #3b4165;transform:scaleX(0.9550);">30,8 %</div>
<div class="t" style="left:1186.09px;top:524.80px;font-size:15px;line-height:18px;color:#3b4165;-webkit-text-stroke:0.21px #3b4165;transform:scaleX(0.9550);">0 €</div>
<div class="t" style="left:1299.09px;top:524.80px;font-size:15px;line-height:18px;color:#3b4165;-webkit-text-stroke:0.21px #3b4165;transform:scaleX(0.9550);">0 €</div>
<div class="t" style="left:1449.09px;top:524.80px;font-size:15px;line-height:18px;color:#3b4165;-webkit-text-stroke:0.21px #3b4165;transform:scaleX(0.9550);">0 €</div>
<div class="t" style="left:1542.59px;top:524.80px;font-size:15px;line-height:18px;color:#3b4165;-webkit-text-stroke:0.21px #3b4165;transform:scaleX(0.9550);">0 €</div>
<div class="t" style="left:1636.37px;top:524.80px;font-size:15px;line-height:18px;color:#3b4165;-webkit-text-stroke:0.21px #3b4165;transform:scaleX(0.9550);">0,0 %</div>
<div class="t" style="left:1747.09px;top:524.80px;font-size:15px;line-height:18px;color:#3b4165;-webkit-text-stroke:0.21px #3b4165;transform:scaleX(0.9550);">0 €</div>
<div class="t" style="left:1847.87px;top:524.80px;font-size:15px;line-height:18px;color:#3b4165;-webkit-text-stroke:0.21px #3b4165;transform:scaleX(0.9550);">0,0 %</div>
<div style="left:104px;top:567px;width:705px;height:27.5px;background:#fff;"></div>
<div style="left:809px;top:567px;width:1069.5px;height:27.5px;background:#ffd0cb;"></div>
<div class="t" style="left:882.10px;top:572.00px;font-size:15px;line-height:18px;color:#3b4165;-webkit-text-stroke:0.69px #3b4165;transform:scaleX(0.9550);">455</div>
<div class="t" style="left:985.07px;top:572.00px;font-size:15px;line-height:18px;color:#3b4165;-webkit-text-stroke:0.69px #3b4165;transform:scaleX(0.9550);">77</div>
<div class="t" style="left:1067.40px;top:572.00px;font-size:15px;line-height:18px;color:#3b4165;-webkit-text-stroke:0.69px #3b4165;transform:scaleX(0.9550);">16,9 %</div>
<div class="t" style="left:1151.35px;top:572.00px;font-size:15px;line-height:18px;color:#3b4165;-webkit-text-stroke:0.69px #3b4165;transform:scaleX(0.9550);">66 000 €</div>
<div class="t" style="left:1414.35px;top:572.00px;font-size:15px;line-height:18px;color:#3b4165;-webkit-text-stroke:0.69px #3b4165;transform:scaleX(0.9550);">66 000 €</div>
<div class="t" style="left:1542.59px;top:572.00px;font-size:15px;line-height:18px;color:#3b4165;-webkit-text-stroke:0.69px #3b4165;transform:scaleX(0.9550);">0 €</div>
<div class="t" style="left:1636.37px;top:572.00px;font-size:15px;line-height:18px;color:#3b4165;-webkit-text-stroke:0.69px #3b4165;transform:scaleX(0.9550);">0,0 %</div>
<div class="t" style="left:1712.35px;top:572.00px;font-size:15px;line-height:18px;color:#3b4165;-webkit-text-stroke:0.69px #3b4165;transform:scaleX(0.9550);">66 000 €</div>
<div class="t" style="left:1831.94px;top:572.00px;font-size:15px;line-height:18px;color:#3b4165;-webkit-text-stroke:0.69px #3b4165;transform:scaleX(0.9550);">100,0 %</div>
</div>
<div style="left:808.8px;top:279px;width:1px;height:270.5px;background:rgba(150,155,185,.30);"></div>
<div style="left:808.8px;top:389px;width:1px;height:28.5px;background:rgba(110,115,150,.14);"></div>
<div style="left:808.8px;top:442.5px;width:1px;height:29.5px;background:rgba(110,115,150,.14);"></div>
<div style="left:808.8px;top:520px;width:1px;height:29.5px;background:rgba(110,115,150,.14);"></div>
<div style="left:104px;top:565px;width:1774.5px;height:2px;background:#a9abc0;"></div>
<div style="left:104px;top:595px;width:1774.5px;height:18.5px;background:#fafafa;"></div>
<div style="left:809px;top:595px;width:1px;height:18.5px;background:#e2e3ea;"></div>
<svg style="left:110px;top:598px;" width="12" height="12" viewBox="0 0 12 12" fill="none"><path d="M9 1.500v9L2.500 6z" fill="#8c8c8c"/></svg>
<svg style="left:791px;top:598px;" width="12" height="12" viewBox="0 0 12 12" fill="none"><path d="M3 1.500v9L9.500 6z" fill="#8c8c8c"/></svg>
<svg style="left:815px;top:598px;" width="12" height="12" viewBox="0 0 12 12" fill="none"><path d="M9 1.500v9L2.500 6z" fill="#8c8c8c"/></svg>
<svg style="left:1861px;top:598px;" width="12" height="12" viewBox="0 0 12 12" fill="none"><path d="M3 1.500v9L9.500 6z" fill="#8c8c8c"/></svg>
<div style="left:832.5px;top:599px;width:887.5px;height:10.5px;background:#8c8c8c;border-radius:6px;"></div>
<div style="left:91px;top:707px;width:1800px;height:345px;background:#fff;border:1px solid #a6a9bf;border-radius:7px;"></div>
<div class="t" style="left:105.00px;top:727.80px;font-size:15px;line-height:18px;color:#3b4165;-webkit-text-stroke:0.69px #3b4165;transform:scaleX(0.9238);">LIGNE BUDGET - PRESTATIONS EXTERNES - LEONARD DUPUIS</div>
<div class="t" style="left:118.50px;top:766.16px;font-size:16px;line-height:19px;color:#3b4165;-webkit-text-stroke:0.74px #3b4165;transform:scaleX(1.0165);">Qualification</div>
<div class="t" style="left:261.00px;top:766.16px;font-size:16px;line-height:19px;color:#3b4165;-webkit-text-stroke:0.74px #3b4165;transform:scaleX(0.9860);">Budget</div>
<div class="t" style="left:363.00px;top:766.16px;font-size:16px;line-height:19px;color:#3b4165;-webkit-text-stroke:0.74px #3b4165;">Affectations</div>
<div class="t" style="left:499.50px;top:766.16px;font-size:16px;line-height:19px;color:#2c3254;-webkit-text-stroke:0.74px #2c3254;transform:scaleX(0.9647);">Commandes</div>
<div class="t" style="left:640.00px;top:766.16px;font-size:16px;line-height:19px;color:#c3c5ce;-webkit-text-stroke:0.74px #c3c5ce;transform:scaleX(0.9535);">Consommé</div>
<div class="t" style="left:771.00px;top:766.16px;font-size:16px;line-height:19px;color:#3b4165;-webkit-text-stroke:0.74px #3b4165;">Historique</div>
<div class="t" style="left:1417.00px;top:725.30px;font-size:15px;line-height:18px;color:#3b4165;-webkit-text-stroke:0.69px #3b4165;transform:scaleX(0.9768);">Voir le collaborateur</div>
<div class="t" style="left:1587.00px;top:725.30px;font-size:15px;line-height:18px;color:#c4c5cb;-webkit-text-stroke:0.69px #c4c5cb;transform:scaleX(0.9671);">Annuler</div>
<div style="left:1670px;top:720px;width:86.5px;height:27.5px;background:#f1f3f5;border-radius:5px;"></div>
<div class="t" style="left:1678.00px;top:725.30px;font-size:15px;line-height:18px;color:#c4c5cb;-webkit-text-stroke:0.69px #c4c5cb;transform:scaleX(0.9678);">Enregistrer</div>
<svg style="left:1786.5px;top:724px;" width="6" height="20" viewBox="0 0 6 20" fill="none"><circle cx="3" cy="3.500" r="1.900" fill="#3b4165"/><circle cx="3" cy="10" r="1.900" fill="#3b4165"/><circle cx="3" cy="16.500" r="1.900" fill="#3b4165"/></svg>
<svg style="left:1809px;top:719.5px;" width="29" height="29" viewBox="0 0 29 29" fill="none"><circle cx="14.500" cy="14.500" r="13.700" stroke="#3b4165" stroke-width="1.100" fill="#fff"/><path d="M9.600 19.400l9.800-9.800M15.600 9.400h4v4M13.400 19.600h-4v-4" stroke="#3b4165" stroke-width="1.300" stroke-linecap="round" stroke-linejoin="round" stroke-dasharray="0"/></svg>
<svg style="left:1848.5px;top:719.5px;" width="29" height="29" viewBox="0 0 29 29" fill="none"><circle cx="14.500" cy="14.500" r="13.700" stroke="#3b4165" stroke-width="1.100" fill="#fff"/><path d="M9 9l11 11M20 9L9 20" stroke="#3b4165" stroke-width="1.700" stroke-linecap="round"/></svg>
<div class="t" style="left:1259.00px;top:765.30px;font-size:15px;line-height:18px;color:#3b4165;-webkit-text-stroke:0.21px #3b4165;transform:scaleX(0.9558);">Nb JxH</div>
<div class="t" style="left:1314.00px;top:765.30px;font-size:15px;line-height:18px;color:#3b4165;-webkit-text-stroke:0.69px #3b4165;transform:scaleX(0.9590);">120</div>
<div class="t" style="left:1358.00px;top:765.30px;font-size:15px;line-height:18px;color:#3b4165;-webkit-text-stroke:0.21px #3b4165;transform:scaleX(0.9762);">Budget HT</div>
<div class="t" style="left:1433.00px;top:765.30px;font-size:15px;line-height:18px;color:#3b4165;-webkit-text-stroke:0.69px #3b4165;transform:scaleX(0.9670);">66 000.00 €</div>
<div class="t" style="left:1528.00px;top:765.30px;font-size:15px;line-height:18px;color:#3b4165;-webkit-text-stroke:0.21px #3b4165;transform:scaleX(0.9786);">Solde cmd HT</div>
<div class="t" style="left:1626.00px;top:765.30px;font-size:15px;line-height:18px;color:#3b4165;-webkit-text-stroke:0.69px #3b4165;transform:scaleX(0.9670);">66 000.00 €</div>
<div class="t" style="left:1720.00px;top:765.30px;font-size:15px;line-height:18px;color:#3b4165;-webkit-text-stroke:0.21px #3b4165;transform:scaleX(0.9816);">Consommé HT</div>
<div class="t" style="left:1824.00px;top:765.30px;font-size:15px;line-height:18px;color:#3b4165;-webkit-text-stroke:0.69px #3b4165;transform:scaleX(0.9831);">0.00 €</div>
<div style="left:105px;top:807px;width:1772px;height:31.5px;background:#e2e4f1;border-radius:6px 6px 0 0;"></div>
<div style="left:1135px;top:807px;width:212.5px;height:31.5px;background:#91e0fb;"></div>
<div style="left:1347.5px;top:807px;width:317px;height:31.5px;background:#ffd0cb;"></div>
<div style="left:165.5px;top:807px;width:1px;height:31.5px;background:#f4f5fa;"></div>
<div style="left:378px;top:807px;width:1px;height:31.5px;background:#f4f5fa;"></div>
<div style="left:497px;top:807px;width:1px;height:31.5px;background:#f4f5fa;"></div>
<div style="left:709px;top:807px;width:1px;height:31.5px;background:#f4f5fa;"></div>
<div style="left:922px;top:807px;width:1px;height:31.5px;background:#f4f5fa;"></div>
<div style="left:1028px;top:807px;width:1px;height:31.5px;background:#f4f5fa;"></div>
<div style="left:1134px;top:807px;width:1px;height:31.5px;background:#f4f5fa;"></div>
<div style="left:1347px;top:807px;width:1px;height:31.5px;background:#f3f6fb;"></div>
<div style="left:1506px;top:807px;width:1px;height:31.5px;background:#fff1ef;"></div>
<div style="left:1664.5px;top:807px;width:1px;height:31.5px;background:#f6f0f3;"></div>
<div class="t" style="left:110.00px;top:814.13px;font-size:15.5px;line-height:19px;color:#3b4165;-webkit-text-stroke:0.71px #3b4165;">Actions</div>
<div class="t" style="left:172.00px;top:814.13px;font-size:15.5px;line-height:19px;color:#3b4165;-webkit-text-stroke:0.71px #3b4165;transform:scaleX(0.9146);">Réf.</div>
<svg style="left:358.5px;top:817px;" width="15" height="12" viewBox="0 0 15 12" fill="none"><path d="M1.100 2.100h12.200M3.600 6h7.200M5.900 9.900h2.600" stroke="#3b4165" stroke-width="1.900" stroke-linecap="round"/></svg>
<div class="t" style="left:384.00px;top:814.13px;font-size:15.5px;line-height:19px;color:#3b4165;-webkit-text-stroke:0.71px #3b4165;transform:scaleX(0.9750);">Date *</div>
<svg style="left:478px;top:817px;" width="15" height="12" viewBox="0 0 15 12" fill="none"><path d="M1.100 2.100h12.200M3.600 6h7.200M5.900 9.900h2.600" stroke="#3b4165" stroke-width="1.900" stroke-linecap="round"/></svg>
<div class="t" style="left:503.00px;top:814.13px;font-size:15.5px;line-height:19px;color:#3b4165;-webkit-text-stroke:0.71px #3b4165;">Fournisseur *</div>
<svg style="left:690px;top:817px;" width="15" height="12" viewBox="0 0 15 12" fill="none"><path d="M1.100 2.100h12.200M3.600 6h7.200M5.900 9.900h2.600" stroke="#3b4165" stroke-width="1.900" stroke-linecap="round"/></svg>
<div class="t" style="left:715.00px;top:814.13px;font-size:15.5px;line-height:19px;color:#3b4165;-webkit-text-stroke:0.71px #3b4165;transform:scaleX(1.0335);">Libellé *</div>
<svg style="left:903px;top:817px;" width="15" height="12" viewBox="0 0 15 12" fill="none"><path d="M1.100 2.100h12.200M3.600 6h7.200M5.900 9.900h2.600" stroke="#3b4165" stroke-width="1.900" stroke-linecap="round"/></svg>
<div class="t" style="left:928.00px;top:814.13px;font-size:15.5px;line-height:19px;color:#3b4165;-webkit-text-stroke:0.71px #3b4165;transform:scaleX(1.0058);">Début *</div>
<svg style="left:1009px;top:817px;" width="15" height="12" viewBox="0 0 15 12" fill="none"><path d="M1.100 2.100h12.200M3.600 6h7.200M5.900 9.900h2.600" stroke="#3b4165" stroke-width="1.900" stroke-linecap="round"/></svg>
<div class="t" style="left:1034.00px;top:814.13px;font-size:15.5px;line-height:19px;color:#3b4165;-webkit-text-stroke:0.71px #3b4165;transform:scaleX(0.9727);">Fin *</div>
<svg style="left:1115px;top:817px;" width="15" height="12" viewBox="0 0 15 12" fill="none"><path d="M1.100 2.100h12.200M3.600 6h7.200M5.900 9.900h2.600" stroke="#3b4165" stroke-width="1.900" stroke-linecap="round"/></svg>
<div class="t" style="left:1140.00px;top:814.13px;font-size:15.5px;line-height:19px;color:#3b4165;-webkit-text-stroke:0.71px #3b4165;transform:scaleX(0.9432);">Cmd 2026 HT</div>
<div class="t" style="left:1353.00px;top:814.13px;font-size:15.5px;line-height:19px;color:#3b4165;-webkit-text-stroke:0.71px #3b4165;transform:scaleX(0.9388);">Conso HT</div>
<div class="t" style="left:1512.00px;top:814.13px;font-size:15.5px;line-height:19px;color:#3b4165;-webkit-text-stroke:0.71px #3b4165;transform:scaleX(0.9518);">Solde HT</div>
<div class="t" style="left:1670.00px;top:814.13px;font-size:15.5px;line-height:19px;color:#3b4165;-webkit-text-stroke:0.71px #3b4165;transform:scaleX(1.0318);">Description</div>
<div style="left:105px;top:839px;width:1772px;height:29.5px;background:#86e5ae;"></div>
<div style="left:1135px;top:839px;width:212.5px;height:29.5px;background:#88ddc9;"></div>
<div style="left:1347.5px;top:839px;width:159px;height:29.5px;background:#70d4be;border:1px solid #2f93ea;"></div>
<div style="left:1506.5px;top:839px;width:158px;height:29.5px;background:#b5e6c5;"></div>
<div style="left:1499.5px;top:862px;width:7px;height:6.5px;background:#2196f3;"></div>
<div style="left:922px;top:839px;width:1px;height:29.5px;background:rgba(90,120,120,.30);"></div>
<svg style="left:115px;top:844.7px;" width="6" height="18" viewBox="0 0 6 18" fill="none"><circle cx="3" cy="3" r="1.95" fill="#3b4165"/><circle cx="3" cy="9" r="1.95" fill="#3b4165"/><circle cx="3" cy="15" r="1.95" fill="#3b4165"/></svg>
<svg style="left:131px;top:844px;" width="16" height="18" viewBox="0 0 16 18" fill="none"><g stroke="#3b4165" stroke-width="1.200" stroke-linejoin="round" stroke-linecap="round"><path d="M2.200 1.800h7.600l4 4v10.400H2.200z"/><path d="M9.600 2v4h4"/><path d="M4.800 9.400h6.400M4.800 12.400h3.600"/></g></svg>
<div class="t" style="left:172.00px;top:845.00px;font-size:15px;line-height:18px;color:#3b4165;-webkit-text-stroke:0.21px #3b4165;transform:scaleX(0.9056);">C-001</div>
<div class="t" style="left:384.00px;top:845.00px;font-size:15px;line-height:18px;color:#3b4165;-webkit-text-stroke:0.21px #3b4165;">12/01/2026</div>
<div class="t" style="left:503.00px;top:845.00px;font-size:15px;line-height:18px;color:#3b4165;-webkit-text-stroke:0.21px #3b4165;transform:scaleX(0.8754);">ESN</div>
<div class="t" style="left:715.00px;top:845.00px;font-size:15px;line-height:18px;color:#3b4165;-webkit-text-stroke:0.21px #3b4165;transform:scaleX(1.0162);">commande presta</div>
<div class="t" style="left:928.00px;top:845.00px;font-size:15px;line-height:18px;color:#3b4165;-webkit-text-stroke:0.21px #3b4165;transform:scaleX(0.9775);">01/2026</div>
<div class="t" style="left:1034.00px;top:845.00px;font-size:15px;line-height:18px;color:#3b4165;-webkit-text-stroke:0.21px #3b4165;transform:scaleX(0.9867);">12/2026</div>
<div style="left:1165px;top:841px;width:80.5px;height:26.5px;background:#4c6ef5;border-radius:6px;"></div>
<div class="t" style="left:1185.00px;top:846.98px;font-size:14.5px;line-height:17px;color:#fff;-webkit-text-stroke:0.67px #fff;transform:scaleX(1.0255);">solder</div>
<div class="t" style="left:1269.50px;top:845.80px;font-size:15px;line-height:18px;color:#3b4165;-webkit-text-stroke:0.21px #3b4165;transform:scaleX(0.9414);">66 000.00 €</div>
<div class="t" style="left:1462.00px;top:845.00px;font-size:15px;line-height:18px;color:#3b4165;-webkit-text-stroke:0.21px #3b4165;transform:scaleX(0.9591);">0.00 €</div>
<div class="t" style="left:1586.50px;top:845.00px;font-size:15px;line-height:18px;color:#3b4165;-webkit-text-stroke:0.21px #3b4165;transform:scaleX(0.9414);">66 000.00 €</div>
<div style="left:105px;top:996.5px;width:1773px;height:2px;background:#a9abc0;"></div>
<div style="left:1135px;top:998.5px;width:212.5px;height:28px;background:#91e0fb;"></div>
<div style="left:1347.5px;top:998.5px;width:317px;height:28px;background:#ffd0cb;"></div>
<div class="t" style="left:1267.00px;top:1004.00px;font-size:15px;line-height:18px;color:#3b4165;-webkit-text-stroke:0.69px #3b4165;transform:scaleX(0.9734);">66 000.00 €</div>
<div class="t" style="left:1461.00px;top:1004.00px;font-size:15px;line-height:18px;color:#3b4165;-webkit-text-stroke:0.69px #3b4165;transform:scaleX(0.9831);">0.00 €</div>
<div class="t" style="left:1584.50px;top:1004.00px;font-size:15px;line-height:18px;color:#3b4165;-webkit-text-stroke:0.69px #3b4165;transform:scaleX(0.9670);">66 000.00 €</div>
<svg style="left:119px;top:1005px;" width="17" height="17" viewBox="0 0 17 17" fill="none"><path d="M8.500 1.500v14M1.500 8.500h14" stroke="#3b4165" stroke-width="1.500" stroke-linecap="round"/></svg>
<div class="t" style="left:142.00px;top:1003.50px;font-size:15px;line-height:18px;color:#3b4165;-webkit-text-stroke:0.69px #3b4165;transform:scaleX(0.9672);">Ajouter une commande</div>
<div style="left:184px;top:73px;width:250px;height:123px;background:#fff;border-radius:0 0 5px 5px;box-shadow:15px 34px 17px -5px rgba(0,0,0,.33),3px 6px 10px rgba(0,0,0,.10);"></div>
<div class="t" style="left:204.00px;top:88.13px;font-size:15.5px;line-height:19px;color:#4a5074;-webkit-text-stroke:0.22px #4a5074;transform:scaleX(0.9594);">Vue globale</div>
<div class="t" style="left:204.00px;top:123.13px;font-size:15.5px;line-height:19px;color:#4a5074;-webkit-text-stroke:0.22px #4a5074;transform:scaleX(0.9714);">Vue détaillée</div>
<div style="left:193.5px;top:147.5px;width:230px;height:37px;background:#bfebd9;border-radius:5px;"></div>
<div class="t" style="left:204.00px;top:158.13px;font-size:15.5px;line-height:19px;color:#4a5074;-webkit-text-stroke:0.22px #4a5074;transform:scaleX(0.9754);">Vue collaborateurs</div>
<div style="left:73px;top:0px;width:1837px;height:73px;background:#fff;border-top:1px solid #ececf1;border-top-right-radius:10px;"></div>
<div style="left:1666px;top:0.5px;width:244px;height:73.4px;background:#cfd3e8;border-radius:0 10px 9px 0;"></div>
<svg style="left:92px;top:30px;" width="14" height="14" viewBox="0 0 14 14" fill="none"><path d="M12.5 7H2M6.5 2.2L1.8 7l4.7 4.8" stroke="#4c6ef5" stroke-width="1.6" stroke-linecap="round" stroke-linejoin="round"/></svg>
<div class="t" style="left:111.00px;top:28.13px;font-size:15.5px;line-height:19px;color:#4c6ef5;-webkit-text-stroke:0.71px #4c6ef5;transform:scaleX(1.0103);">Retour</div>
<div style="left:177px;top:12px;width:1px;height:50px;background:#d5d7e2;"></div>
<div style="left:203px;top:11px;width:62.5px;height:18px;background:#3d4468;border-radius:9px;"></div>
<div class="t" style="left:212.00px;top:13.99px;font-size:11px;line-height:13px;color:#fff;font-weight:700;-webkit-text-stroke:0.15px #fff;transform:scaleX(0.9624);">BUDGET</div>
<div style="left:271px;top:11px;width:54.5px;height:18px;background:#20c88d;border-radius:9px;"></div>
<svg style="left:279px;top:14px;" width="10" height="12" viewBox="0 0 10 12" fill="none"><path d="M2 2.2v7.6l6.2-3.8z" stroke="#3b4165" stroke-width="1.3" stroke-linejoin="round"/></svg>
<div class="t" style="left:293.70px;top:11.62px;font-size:13.5px;line-height:16px;color:#3b4165;-webkit-text-stroke:0.19px #3b4165;transform:scaleX(0.9411);">actif</div>
<div class="t" style="left:331.80px;top:6.25px;font-size:21.5px;line-height:26px;color:#3b4165;-webkit-text-stroke:0.50px #3b4165;transform:scaleX(1.0207);">DSI 2026</div>
<svg style="left:430px;top:11px;" width="12" height="15" viewBox="0 0 12 15" fill="none"><path d="M3.6 2.9l5.2 4.8-5.2 4.8" stroke="#3b4165" stroke-width="2.5" stroke-linecap="round" stroke-linejoin="round"/></svg>
<div class="t" style="left:450.00px;top:8.39px;font-size:18.5px;line-height:22px;color:#3b4165;font-style:italic;-webkit-text-stroke:0.45px #3b4165;transform:scaleX(1.0330);">Vue collaborateurs</div>
<div style="left:197px;top:40px;width:719px;height:1px;background:#cfd0d6;"></div>
<div class="t" style="left:203.50px;top:45.66px;font-size:16px;line-height:19px;color:#12a579;-webkit-text-stroke:0.74px #12a579;transform:scaleX(1.0451);">Budget</div>
<svg style="left:269px;top:51px;" width="12" height="10" viewBox="0 0 12 10" fill="none"><path d="M2 2.6l4 4 4-4" stroke="#12a579" stroke-width="2.1" stroke-linecap="round" stroke-linejoin="round"/></svg>
<div class="t" style="left:328.00px;top:45.66px;font-size:16px;line-height:19px;color:#3b4165;-webkit-text-stroke:0.74px #3b4165;transform:scaleX(1.0308);">Commandes</div>
<svg style="left:435px;top:51px;" width="12" height="10" viewBox="0 0 12 10" fill="none"><path d="M2 2.6l4 4 4-4" stroke="#3b4165" stroke-width="2.1" stroke-linecap="round" stroke-linejoin="round"/></svg>
<div class="t" style="left:493.70px;top:45.66px;font-size:16px;line-height:19px;color:#3b4165;-webkit-text-stroke:0.74px #3b4165;transform:scaleX(1.0244);">Consommé</div>
<svg style="left:591px;top:51px;" width="12" height="10" viewBox="0 0 12 10" fill="none"><path d="M2 2.6l4 4 4-4" stroke="#3b4165" stroke-width="2.1" stroke-linecap="round" stroke-linejoin="round"/></svg>
<div class="t" style="left:650.00px;top:45.66px;font-size:16px;line-height:19px;color:#3b4165;-webkit-text-stroke:0.74px #3b4165;transform:scaleX(1.0397);">Rapports</div>
<svg style="left:731px;top:51px;" width="12" height="10" viewBox="0 0 12 10" fill="none"><path d="M2 2.6l4 4 4-4" stroke="#3b4165" stroke-width="2.1" stroke-linecap="round" stroke-linejoin="round"/></svg>
<div class="t" style="left:789.00px;top:45.66px;font-size:16px;line-height:19px;color:#3b4165;-webkit-text-stroke:0.74px #3b4165;transform:scaleX(1.0179);">Revue décisions</div>
<svg style="left:1562px;top:20px;" width="34" height="34" viewBox="0 0 34 34" fill="none"><path d="M17 3.5v27M3.5 17h27" stroke="#3b4165" stroke-width="3" stroke-linecap="round"/></svg>
<svg style="left:1629px;top:20px;" width="12" height="34" viewBox="0 0 12 34" fill="none"><circle cx="5.5" cy="5.5" r="3.6" fill="#3b4165"/><circle cx="5.5" cy="17" r="3.6" fill="#3b4165"/><circle cx="5.5" cy="28.5" r="3.6" fill="#3b4165"/></svg>
<svg style="left:1693px;top:22.3px;" width="30" height="33" viewBox="0 0 30 33" fill="none"><path d="M3.400 27.600V6.800a3.600 3.600 0 0 1 3.600-3.600h17.400a2.200 2.200 0 0 1 2.200 2.200v19H7.200a3.300 3.300 0 0 0 0 6.600h19.800" stroke="#3b4165" stroke-width="2.600" stroke-linecap="round" stroke-linejoin="round"/><path d="M10.200 9.800h11M10.200 14.800h11" stroke="#3b4165" stroke-width="2.600" stroke-linecap="round"/></svg>
<div class="t" style="left:1730.00px;top:29.96px;font-size:16px;line-height:19px;color:#3b4165;font-weight:700;-webkit-text-stroke:0.22px #3b4165;transform:scaleX(0.9229);">Aide</div>
<svg style="left:1785px;top:22px;" width="34" height="34" viewBox="0 0 34 34" fill="none"><path d="M3.600 19v-3.800C3.600 8.600 9.400 3.400 16.800 3.400S30 8.600 30 15.200V19" stroke="#3b4165" stroke-width="2.600" stroke-linecap="round"/><rect x="3" y="13.800" width="6.400" height="11.200" rx="3" stroke="#3b4165" stroke-width="2.500"/><rect x="24.200" y="13.800" width="6.400" height="11.200" rx="3" stroke="#3b4165" stroke-width="2.500"/><path d="M30.200 24.400v1.800a4 4 0 0 1-4 4h-7.400" stroke="#3b4165" stroke-width="2.500" stroke-linecap="round"/><ellipse cx="17" cy="30" rx="3.900" ry="2.700" fill="#3b4165"/></svg>
<div class="t" style="left:1824.50px;top:29.96px;font-size:16px;line-height:19px;color:#3b4165;font-weight:700;-webkit-text-stroke:0.22px #3b4165;transform:scaleX(0.9458);">Support</div>
<div style="left:0px;top:0px;width:73px;height:1043px;background:#fff;"></div>
<div style="left:0px;top:0px;width:73px;height:1043px;background:linear-gradient(to bottom,#ef7d00 0,#f0820f 12%,#f58f2a 45%,#fa9c46 70%,#fea85d 100%);border-radius:9px 0 0 10px;"></div>
<div style="left:0px;top:0px;width:73px;height:74px;background:#ef7d00;border-radius:9px 0 0 0;"></div>
<svg style="left:0px;top:0px;" width="73" height="74" viewBox="0 0 73 74" fill="none"><g stroke="#fff" stroke-width="4" stroke-linecap="round" stroke-linejoin="round"><path d="M19.8 37v14.6L36 37.3 25.8 26.5"/><path d="M41.6 32L53.4 21l1.5 11.5"/><path d="M41.6 42.2l5.9 6.2"/></g></svg>
<div style="left:0px;top:74px;width:73px;height:23px;background:#fff;"></div>
<div class="t" style="left:3.00px;top:79.32px;font-size:11.2px;line-height:13px;color:#ee7f0c;-webkit-text-stroke:0.52px #ee7f0c;transform:scaleX(0.9199);">BAC À SABLE</div>
<div style="left:0px;top:260px;width:73px;height:75.5px;background:#fff;"></div>
<svg style="left:20px;top:120px;" width="34" height="32" viewBox="0 0 34 32" fill="none"><g stroke="#fff" stroke-width="2.35" stroke-linecap="round"><path d="M10.5 7.4h11"/><path d="M4 13.4h11"/><path d="M6.6 19.4h4.8M15.6 19.4h10"/><path d="M4 25.6h11M19 25.6h10.4"/></g></svg>
<div class="t" style="left:5.80px;top:156.76px;font-size:10.8px;line-height:13px;color:#fff;-webkit-text-stroke:0.50px #fff;transform:scaleX(1.0348);">Portefeuilles</div>
<svg style="left:20px;top:194px;" width="34" height="34" viewBox="0 0 34 34" fill="none"><g stroke="#fff" stroke-width="2.35" stroke-linecap="round" stroke-linejoin="round"><circle cx="13.5" cy="9.6" r="5.4"/><path d="M13.8 20.6c-5.6 0-9.6 2.2-10.4 5.6h10.4"/><rect x="17.8" y="17.4" width="12.2" height="13.4" rx="2.6"/><path d="M22 22.3h3.8M22 26.2h3.8"/></g></svg>
<div class="t" style="left:4.70px;top:231.96px;font-size:10.8px;line-height:13px;color:#fff;-webkit-text-stroke:0.50px #fff;transform:scaleX(1.0077);">Fournisseurs</div>
<svg style="left:19px;top:270px;" width="34" height="32" viewBox="0 0 34 32" fill="none"><g stroke="#f08a24" stroke-width="1.9" stroke-linecap="round" stroke-linejoin="round"><ellipse cx="9.5" cy="5.6" rx="7" ry="3"/><path d="M2.5 5.6v12.6c0 1.4 2 2.5 4.6 2.9M16.5 5.6v3.6M2.5 9.8c0 1.6 3.1 3 7 3 1.2 0 2.3-.1 3.300-.4M2.5 14c0 1.500 2.500 2.700 5.800 3"/><ellipse cx="25" cy="11.400" rx="7" ry="3"/><path d="M18 11.400v3.400M32 11.400v12.400c0 1.400-2 2.600-4.800 3M32 15.600c0 1.400-2 2.500-4.800 2.900M32 19.800c0 1.400-2 2.500-4.800 2.900"/><ellipse cx="17" cy="19" rx="7" ry="3"/><path d="M10 19v8.400c0 1.700 3.100 3 7 3s7-1.300 7-3V19M10 23.200c0 1.700 3.100 3 7 3s7-1.300 7-3"/></g></svg>
<div class="t" style="left:17.00px;top:309.76px;font-size:10.8px;line-height:13px;color:#f08a24;-webkit-text-stroke:0.15px #f08a24;transform:scaleX(0.9890);">Finance</div>
<svg style="left:20px;top:347px;" width="34" height="30" viewBox="0 0 34 30" fill="none"><g stroke="#fff" stroke-width="2.35" stroke-linecap="round" stroke-linejoin="round"><circle cx="11.500" cy="9" r="5.300"/><path d="M2.600 25.600c.7-4.700 4.200-7.400 8.900-7.400s8.200 2.700 8.900 7.400z"/><circle cx="24.600" cy="12.300" r="3.500"/><path d="M24 19.300c4 0 6.600 2.300 7.200 6.300h-6.400"/></g></svg>
<div class="t" style="left:16.50px;top:381.76px;font-size:10.8px;line-height:13px;color:#fff;-webkit-text-stroke:0.50px #fff;transform:scaleX(1.0044);">Équipes</div>
<svg style="left:20px;top:548px;" width="34" height="34" viewBox="0 0 34 34" fill="none"><g stroke="#fff" stroke-width="2.350" stroke-linecap="round" stroke-linejoin="round"><path d="M10.300 5.300a1.300 1.300 0 0 1 2.200 0l4.300 7.200a1.300 1.300 0 0 1-1.100 2H7.100a1.300 1.300 0 0 1-1.100-2z"/><circle cx="8.600" cy="25.400" r="5.600"/><rect x="19.500" y="17.600" width="10.600" height="10.600" rx="0.600"/></g></svg>
<div class="t" style="left:8.70px;top:585.96px;font-size:10.8px;line-height:13px;color:#fff;-webkit-text-stroke:0.50px #fff;transform:scaleX(0.9645);">Ressources</div>
<svg style="left:20px;top:626px;" width="34" height="30" viewBox="0 0 34 30" fill="none"><g stroke="#fff" stroke-width="2.350" stroke-linecap="round" stroke-linejoin="round"><path d="M3 24.600V5.400a1.600 1.600 0 0 1 1.600-1.600h7.200l3.200 3.600h9.600a1.600 1.600 0 0 1 1.600 1.600v3.400"/><path d="M3 24.800l4.200-11a1.600 1.600 0 0 1 1.500-1h20.100a1.200 1.200 0 0 1 1.100 1.700l-3.800 9.600a1.600 1.600 0 0 1-1.500 1H3.400"/></g></svg>
<div class="t" style="left:8.20px;top:660.46px;font-size:10.8px;line-height:13px;color:#fff;-webkit-text-stroke:0.50px #fff;transform:scaleX(1.0307);">Documents</div>
<svg style="left:21px;top:700px;" width="32" height="32" viewBox="0 0 32 32" fill="none"><g stroke="#fff" stroke-width="2.350" stroke-linecap="round" stroke-linejoin="round"><rect x="3.800" y="9.800" width="17.600" height="17.600" rx="3"/><path d="M9.600 9.400V6.600a3 3 0 0 1 3-3h12a3 3 0 0 1 3 3v12a3 3 0 0 1-3 3h-2.800"/><path d="M8.400 18.600l3.400 3.400 5.800-6.400"/></g></svg>
<div class="t" style="left:19.50px;top:735.96px;font-size:10.8px;line-height:13px;color:#fff;-webkit-text-stroke:0.50px #fff;transform:scaleX(0.9515);">Tâches</div>
<svg style="left:21px;top:905px;" width="32" height="32" viewBox="0 0 32 32" fill="none"><g stroke="#fff" stroke-width="2.350" stroke-linecap="round"><path d="M7.400 3.400v4M7.400 14.200v13.600M15.800 3.400v12.800M15.800 23v4.800M24.200 3.400v6M24.200 16.200v11.600"/><circle cx="7.400" cy="10.800" r="3.200"/><circle cx="15.800" cy="19.600" r="3.200"/><circle cx="24.200" cy="12.800" r="3.200"/></g></svg>
<div class="t" style="left:20.00px;top:940.76px;font-size:10.8px;line-height:13px;color:#fff;-webkit-text-stroke:0.50px #fff;transform:scaleX(1.0453);">Admin</div>
<svg style="left:21px;top:980px;" width="32" height="32" viewBox="0 0 32 32" fill="none"><g stroke="#fff" stroke-width="2.300" stroke-linecap="round"><circle cx="15.400" cy="15.800" r="10.600"/><circle cx="15.400" cy="12.600" r="3.400"/><path d="M8.400 23.400c1.400-2.800 4-4 7-4s5.600 1.200 7 4"/></g></svg>
<div class="t" style="left:11.20px;top:1016.16px;font-size:10.8px;line-height:13px;color:#fff;-webkit-text-stroke:0.50px #fff;transform:scaleX(1.0544);">Mon profil</div>
<svg style="left:-2.4px;top:250.4px;overflow:visible;filter:drop-shadow(0.5px 2px 1.8px rgba(0,0,0,.48));" width="88" height="94.8" fill="none"><rect x="9" y="9" width="70" height="76.8" rx="5" stroke="#ff0000" stroke-width="2"/></svg>
<svg style="left:183.8px;top:137.6px;overflow:visible;filter:drop-shadow(0.5px 2px 1.8px rgba(0,0,0,.48));" width="249.6" height="56.8" fill="none"><rect x="9" y="9" width="231.6" height="38.8" rx="5" stroke="#ff0000" stroke-width="2"/></svg>
<svg style="left:90.5px;top:377.2px;overflow:visible;filter:drop-shadow(0.5px 2px 1.8px rgba(0,0,0,.48));" width="1804.1" height="51.3" fill="none"><rect x="9" y="9" width="1786.1" height="33.3" rx="5" stroke="#ff0000" stroke-width="2"/></svg>
<svg style="left:471.5px;top:740.7px;overflow:visible;filter:drop-shadow(0.5px 2px 1.8px rgba(0,0,0,.48));" width="142.5" height="61.3" fill="none"><rect x="9" y="9" width="124.5" height="43.3" rx="5" stroke="#ff0000" stroke-width="2"/></svg>
<svg style="left:99.5px;top:986.5px;overflow:visible;filter:drop-shadow(0.5px 2px 1.8px rgba(0,0,0,.48));" width="223.5" height="56.5" fill="none"><rect x="9" y="9" width="205.5" height="38.5" rx="5" stroke="#ff0000" stroke-width="2"/></svg>
<svg style="left:91px;top:824.5px;overflow:visible;filter:drop-shadow(0.5px 2px 1.8px rgba(0,0,0,.48));" width="1795.8" height="58.5" fill="none"><rect x="9" y="9" width="1777.8" height="40.5" rx="5" stroke="#ff0000" stroke-width="2"/></svg>
<svg style="left:48px;top:304.1px;overflow:visible;filter:drop-shadow(1px 2px 2.5px rgba(0,0,0,.38));" width="52" height="52" fill="none"><circle cx="26" cy="26" r="17.3" fill="rgba(226,30,38,.88)" stroke="#ff0a0a" stroke-width="2"/></svg>
<div class="t" style="left:69.25px;top:319.80px;font-size:17.6px;line-height:21px;color:#fff;-webkit-text-stroke:0.85px #fff;transform:scaleX(0.9700);opacity:.93;">1</div>
<svg style="left:395px;top:123.2px;overflow:visible;filter:drop-shadow(1px 2px 2.5px rgba(0,0,0,.38));" width="52" height="52" fill="none"><circle cx="26" cy="26" r="17.3" fill="rgba(226,30,38,.88)" stroke="#ff0a0a" stroke-width="2"/></svg>
<div class="t" style="left:416.25px;top:138.90px;font-size:17.6px;line-height:21px;color:#fff;-webkit-text-stroke:0.85px #fff;transform:scaleX(0.9700);opacity:.93;">2</div>
<svg style="left:83px;top:359.2px;overflow:visible;filter:drop-shadow(1px 2px 2.5px rgba(0,0,0,.38));" width="52" height="52" fill="none"><circle cx="26" cy="26" r="17.3" fill="rgba(226,30,38,.88)" stroke="#ff0a0a" stroke-width="2"/></svg>
<div class="t" style="left:104.25px;top:374.90px;font-size:17.6px;line-height:21px;color:#fff;-webkit-text-stroke:0.85px #fff;transform:scaleX(0.9700);opacity:.93;">3</div>
<svg style="left:584.7px;top:719px;overflow:visible;filter:drop-shadow(1px 2px 2.5px rgba(0,0,0,.38));" width="52" height="52" fill="none"><circle cx="26" cy="26" r="17.3" fill="rgba(226,30,38,.88)" stroke="#ff0a0a" stroke-width="2"/></svg>
<div class="t" style="left:605.95px;top:734.70px;font-size:17.6px;line-height:21px;color:#fff;-webkit-text-stroke:0.85px #fff;transform:scaleX(0.9700);opacity:.93;">4</div>
<svg style="left:56px;top:986.5px;overflow:visible;filter:drop-shadow(1px 2px 2.5px rgba(0,0,0,.38));" width="52" height="52" fill="none"><circle cx="26" cy="26" r="17.3" fill="rgba(226,30,38,.88)" stroke="#ff0a0a" stroke-width="2"/></svg>
<div class="t" style="left:77.25px;top:1002.20px;font-size:17.6px;line-height:21px;color:#fff;-webkit-text-stroke:0.85px #fff;transform:scaleX(0.9700);opacity:.93;">5</div>
<svg style="left:65px;top:813px;overflow:visible;filter:drop-shadow(1px 2px 2.5px rgba(0,0,0,.38));" width="52" height="52" fill="none"><circle cx="26" cy="26" r="17.3" fill="rgba(226,30,38,.88)" stroke="#ff0a0a" stroke-width="2"/></svg>
<div class="t" style="left:86.25px;top:828.70px;font-size:17.6px;line-height:21px;color:#fff;-webkit-text-stroke:0.85px #fff;transform:scaleX(0.9700);opacity:.93;">6</div>
</div>
</body></html>
